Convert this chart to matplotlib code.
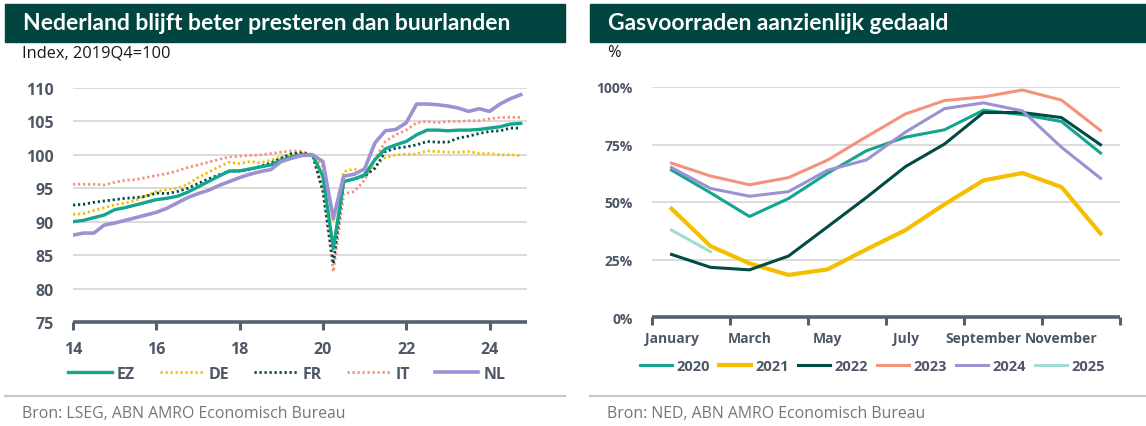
import matplotlib
matplotlib.use("Agg")
import matplotlib.pyplot as plt
from matplotlib.patches import Rectangle
from matplotlib.lines import Line2D

# ---------------- data ----------------
quarters = [14 + i / 4 for i in range(44)]
ez = [90.0, 90.2, 90.6, 91.0, 91.8, 92.1, 92.5, 92.9, 93.3, 93.5, 93.8, 94.4,
      95.2, 96.0, 96.8, 97.6, 97.6, 97.9, 98.2, 98.5, 99.2, 99.7, 100.0, 100.0,
      96.8, 86.0, 96.0, 96.4, 97.0, 99.3, 100.9, 101.5, 102.0, 103.0, 103.7, 103.7,
      103.6, 103.7, 103.7, 103.8, 104.0, 104.2, 104.6, 104.7]
de = [91.1, 91.2, 91.7, 92.1, 92.5, 92.8, 93.2, 93.9, 94.5, 94.8, 95.0, 95.6,
      96.6, 97.4, 98.2, 98.9, 98.7, 99.0, 98.8, 99.2, 99.7, 100.0, 100.2, 100.0,
      98.2, 90.0, 97.5, 97.9, 97.3, 98.3, 99.6, 100.0, 100.1, 100.1, 100.6, 100.5,
      100.4, 100.4, 100.5, 100.2, 100.2, 100.0, 100.0, 99.9]
fr = [92.5, 92.6, 92.9, 93.1, 93.3, 93.5, 93.6, 93.8, 94.3, 94.2, 94.5, 95.0,
      95.7, 96.4, 97.0, 97.5, 97.6, 97.8, 98.3, 98.8, 99.5, 100.2, 100.3, 100.0,
      94.6, 83.7, 96.0, 96.4, 96.8, 98.0, 100.5, 101.0, 101.2, 101.5, 102.0, 101.9,
      101.9, 102.5, 102.8, 103.2, 103.5, 103.6, 104.0, 104.0]
it = [95.6, 95.6, 95.6, 95.5, 95.9, 96.2, 96.3, 96.6, 96.9, 97.2, 97.6, 98.1,
      98.5, 98.9, 99.3, 99.7, 99.8, 99.9, 100.0, 100.2, 100.4, 100.6, 100.5, 100.0,
      94.5, 82.5, 94.2, 94.5, 96.2, 99.4, 102.0, 103.0, 103.7, 104.8, 105.0, 104.8,
      105.0, 105.0, 105.1, 105.1, 105.4, 105.6, 105.6, 105.6]
nl = [88.0, 88.3, 88.3, 89.5, 89.8, 90.2, 90.6, 91.0, 91.4, 92.0, 92.8, 93.6,
      94.2, 94.7, 95.4, 96.0, 96.6, 97.1, 97.5, 97.8, 99.0, 99.5, 99.9, 100.0,
      99.0, 90.5, 96.8, 97.1, 97.9, 101.8, 103.6, 103.8, 104.8, 107.6, 107.6, 107.5,
      107.3, 107.0, 106.5, 106.9, 106.5, 107.6, 108.4, 109.0]
left_xticks = [14, 16, 18, 20, 22, 24]
left_yticks = [75, 80, 85, 90, 95, 100, 105, 110]

months = list(range(1, 13))
month_labels = ["January", "March", "May", "July", "September", "November"]
gas_2020 = [63.9, 54.0, 43.7, 51.5, 62.5, 72.3, 78.2, 81.4, 89.9, 88.0, 85.0, 71.3]
gas_2021 = [47.1, 30.8, 23.3, 18.3, 20.7, 29.4, 37.8, 49.0, 59.4, 62.6, 56.5, 36.3]
gas_2022 = [27.2, 21.6, 20.5, 26.5, 39.2, 52.0, 65.4, 75.2, 88.9, 88.9, 86.7, 74.9]
gas_2023 = [66.9, 61.3, 57.5, 60.6, 68.2, 78.4, 88.3, 94.1, 95.7, 98.7, 94.3, 81.1]
gas_2024 = [65.0, 55.9, 52.5, 54.5, 63.8, 68.3, 80.4, 90.6, 93.1, 89.6, 73.8, 60.3]
gas_2025 = [37.8, 28.4]
right_yticks = [0, 25, 50, 75, 100]

# ---------------- style ----------------
W, H = 1146, 427
TEAL = "#14a58d"
YELLOW = "#f5bf00"
DARK = "#004b44"
SALMON = "#f4927a"
PURPLE = "#9c91d3"
LTEAL = "#9fdcd3"
BAR = "#00453f"
TICKC = "#4d5766"
AXC = "#566170"
GRID = "#d9d9d9"
SRC = "#767676"

plt.rcParams['font.family'] = ['Open Sans', 'DejaVu Sans']

fig = plt.figure(figsize=(W / 100, H / 100), dpi=100)


def fx(px):
    return px / W


def fy(py):
    return 1 - py / H


def panel_header(x0, x1, title, sub, sub_x):
    fig.patches.append(Rectangle((fx(x0), fy(43)), fx(x1) - fx(x0), fy(5) - fy(43),
                                 transform=fig.transFigure, color=BAR, zorder=0))
    fig.text(fx(x0 + 18), fy(24), title, color="white", fontsize=16.5,
             fontweight="bold", family=["Lato", "DejaVu Sans"], va="center", ha="left")
    fig.text(fx(sub_x), fy(53), sub, color="#1a1a1a", fontsize=11.8, va="center", ha="left")
    fig.lines.append(Line2D([fx(x0), fx(x1)], [fy(397), fy(397)], transform=fig.transFigure,
                            color="#c8c8c8", lw=1.6))


def style_axes(ax):
    for s in ["top", "right", "left"]:
        ax.spines[s].set_visible(False)
    ax.spines["bottom"].set_color(AXC)
    ax.spines["bottom"].set_linewidth(2.6)
    ax.spines["bottom"].set_capstyle("butt")
    ax.tick_params(axis="x", length=6, width=2.2, color=AXC, pad=8)
    ax.tick_params(axis="y", length=0, pad=14)
    ax.grid(axis="y", color=GRID, lw=1.3)
    ax.set_axisbelow(True)
    for lab in ax.get_xticklabels() + ax.get_yticklabels():
        lab.set_fontweight("bold")
        lab.set_color(TICKC)
        lab.set_fontsize(11.5)


# ---------------- left panel ----------------
panel_header(5, 565, "Nederland blijft beter presteren dan buurlanden",
             "Index, 2019Q4=100", 22)
ax1 = fig.add_axes([fx(73), fy(323), fx(527) - fx(73), fy(89) - fy(323)])
dot = (0, (0.8, 1.0))
l_ez, = ax1.plot(quarters, ez, color=TEAL, lw=2.4, label="EZ", zorder=5)
l_de, = ax1.plot(quarters, de, color=YELLOW, lw=2.0, ls=dot, label="DE", zorder=4)
l_fr, = ax1.plot(quarters, fr, color=DARK, lw=2.0, ls=dot, label="FR", zorder=4)
l_it, = ax1.plot(quarters, it, color=SALMON, lw=2.0, ls=dot, label="IT", zorder=3)
l_nl, = ax1.plot(quarters, nl, color=PURPLE, lw=2.6, label="NL", zorder=6)
ax1.set_xlim(14, 24.9)
ax1.set_ylim(75, 110)
ax1.set_xticks(left_xticks)
ax1.set_xticklabels([str(t) for t in left_xticks])
ax1.set_yticks(left_yticks)
style_axes(ax1)
ax1.spines["bottom"].set_bounds(14, 24.9)

leg1 = fig.legend(handles=[l_ez, l_de, l_fr, l_it, l_nl], loc="center left",
                  bbox_to_anchor=(fx(54), fy(375)), ncol=5, frameon=False,
                  handlelength=2.7, handletextpad=0.35, columnspacing=1.55,
                  prop={"weight": "bold", "size": 11.5})
for t in leg1.get_texts():
    t.set_color(TICKC)

fig.text(fx(22), fy(414), "Bron: LSEG, ABN AMRO Economisch Bureau", color=SRC,
         fontsize=11.4, va="center", ha="left")

# ---------------- right panel ----------------
panel_header(590, 1146, "Gasvoorraden aanzienlijk gedaald", "%", 607)
ax2 = fig.add_axes([fx(652), fy(318), fx(1120) - fx(652), fy(88) - fy(318)])
g20, = ax2.plot(months, gas_2020, color=TEAL, lw=2.2, label="2020")
g21, = ax2.plot(months, gas_2021, color=YELLOW, lw=3.0, label="2021")
g22, = ax2.plot(months, gas_2022, color=DARK, lw=2.2, label="2022")
g23, = ax2.plot(months, gas_2023, color=SALMON, lw=2.2, label="2023")
g24, = ax2.plot(months, gas_2024, color=PURPLE, lw=2.2, label="2024")
g25, = ax2.plot(months[:len(gas_2025)], gas_2025, color=LTEAL, lw=2.2, label="2025")
ax2.set_xlim(0.5, 12.5)
ax2.set_ylim(0, 100)
ax2.set_xticks([0.5, 2.5, 4.5, 6.5, 8.5, 10.5, 12.5])
ax2.set_xticklabels([])
ax2.set_xticks([1, 3, 5, 7, 9, 11], minor=True)
ax2.set_xticklabels(month_labels, minor=True)
ax2.tick_params(axis="x", which="minor", length=0, pad=10)
ax2.set_yticks(right_yticks)
ax2.set_yticklabels([f"{v}%" for v in right_yticks])
style_axes(ax2)
for lab in ax2.get_xticklabels(minor=True):
    lab.set_fontweight("bold")
    lab.set_color(TICKC)
    lab.set_fontsize(10)
for lab in ax2.get_yticklabels():
    lab.set_fontsize(10)

leg2 = fig.legend(handles=[g20, g21, g22, g23, g24, g25], loc="center left",
                  bbox_to_anchor=(fx(627), fy(367)), ncol=6, frameon=False,
                  handlelength=2.2, handletextpad=0.3, columnspacing=0.62,
                  prop={"weight": "bold", "size": 10.5})
for t in leg2.get_texts():
    t.set_color(TICKC)

fig.text(fx(607), fy(414), "Bron: NED, ABN AMRO Economisch Bureau", color=SRC,
         fontsize=11.4, va="center", ha="left")

fig.savefig("out.png", dpi=100)
